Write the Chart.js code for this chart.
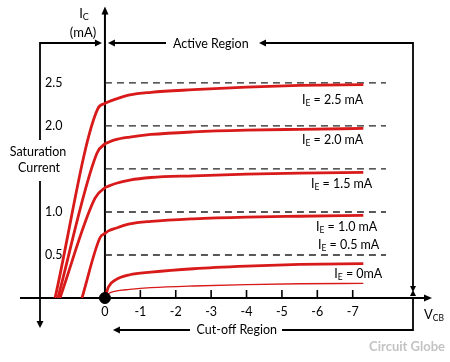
<!DOCTYPE html>
<html>
<head>
<meta charset="utf-8">
<script src="https://cdn.jsdelivr.net/npm/chart.js@4.4.0/dist/chart.umd.min.js"></script>
<style>
  html, body { margin:0; padding:0; background:#fff; }
  canvas { display:block; }
</style>
</head>
<body>
<canvas id="c" width="450" height="362"></canvas>
<script>
// Values: V_CB in volts, I_C in mA
const vcb  = [0, -0.1, -0.3, -0.7, -1.3, -2.5, -4, -5.5, -7.3];
const ieLabels = ["2.5 mA", "2.0 mA", "1.5 mA", "1.0 mA", "0.5 mA", "0mA"];
const ic25 = [2.26, 2.28, 2.31, 2.36, 2.39, 2.42, 2.45, 2.47, 2.48];
const ic20 = [1.79, 1.81, 1.84, 1.87, 1.90, 1.93, 1.95, 1.96, 1.97];
const ic15 = [1.28, 1.30, 1.33, 1.37, 1.40, 1.42, 1.44, 1.45, 1.46];
const ic10 = [0.75, 0.78, 0.81, 0.86, 0.89, 0.92, 0.94, 0.95, 0.96];
const ic05 = [0, 0.13, 0.21, 0.27, 0.30, 0.34, 0.37, 0.39, 0.40];
const ic00 = [0, 0.05, 0.08, 0.10, 0.12, 0.14, 0.155, 0.165, 0.17];
// saturation part of each curve: [foot on the axis, knee] as [vcb, ic]
const sat25 = [[1.41, 0], [0.20, 2.20]];
const sat20 = [[1.33, 0], [0.23, 1.68]];
const sat15 = [[1.27, 0], [0.28, 1.16]];
const sat10 = [[0.65, 0], [0.14, 0.70]];
const levels = [0.5, 1.0, 1.5, 2.0, 2.5];
const levelEnd = -7.94;
const xTicks = [0, -1, -2, -3, -4, -5, -6, -7];
const yTicks = [0.5, 1.0, 2.0, 2.5];
const xRange = [-9.24, 2.40];
const yRange = [0, 3.387];

const RED = "#d81a1a";
const FONT = "Lato";
Chart.defaults.font.family = FONT;

const pts = (sat, ic) => [...sat.map(p => ({x:p[0], y:p[1]})), ...vcb.map((v,i) => ({x:v, y:ic[i]}))];
const curves = [
  {sat:sat25, ic:ic25, w:2.8}, {sat:sat20, ic:ic20, w:2.8}, {sat:sat15, ic:ic15, w:2.8},
  {sat:sat10, ic:ic10, w:2.8}, {sat:[], ic:ic05, w:2.8}, {sat:[], ic:ic00, w:1.4}
];

const datasets = [];
curves.forEach((c, i) => datasets.push({
  label: "IE " + ieLabels[i], data: pts(c.sat, c.ic),
  borderColor: RED, borderWidth: c.w, pointRadius: 0,
  cubicInterpolationMode: "monotone", order: 1
}));
levels.forEach(lv => datasets.push({
  label: "level " + lv, data: [{x:0, y:lv}, {x:levelEnd, y:lv}],
  borderColor: "#222", borderWidth: 1.4, borderDash: [7, 5], pointRadius: 0, order: 3
}));
datasets.push({
  label: "origin", data: [{x:0, y:0}], showLine: false, clip: false,
  pointRadius: 5.5, pointBackgroundColor: "#000", pointBorderColor: "#000", order: 0
});

// drawing helpers
function arrow(ctx, x, y, dir, len=8, half=3.5){
  ctx.beginPath();
  if (dir === "r") { ctx.moveTo(x, y); ctx.lineTo(x-len, y-half); ctx.lineTo(x-len, y+half); }
  if (dir === "l") { ctx.moveTo(x, y); ctx.lineTo(x+len, y-half); ctx.lineTo(x+len, y+half); }
  if (dir === "u") { ctx.moveTo(x, y); ctx.lineTo(x-half, y+len); ctx.lineTo(x+half, y+len); }
  if (dir === "d") { ctx.moveTo(x, y); ctx.lineTo(x-half, y-len); ctx.lineTo(x+half, y-len); }
  ctx.closePath(); ctx.fill();
}
function line(ctx, pts, w=1.8){
  ctx.lineWidth = w; ctx.beginPath();
  ctx.moveTo(pts[0][0], pts[0][1]);
  pts.slice(1).forEach(p => ctx.lineTo(p[0], p[1]));
  ctx.stroke();
}
// parts: [text, size, dy]; draws a run of text with subscripts
function runText(ctx, parts, x, y, align="left"){
  let total = 0;
  const ws = parts.map(p => { ctx.font = p[1] + "px " + FONT; const w = ctx.measureText(p[0]).width; total += w; return w; });
  let cx = align === "right" ? x - total : align === "center" ? x - total/2 : x;
  ctx.textAlign = "left"; ctx.textBaseline = "middle";
  parts.forEach((p, i) => { ctx.font = p[1] + "px " + FONT; ctx.fillText(p[0], cx, y + (p[2]||0)); cx += ws[i]; });
}

const axesPlugin = {
  id: "axes",
  beforeDatasetsDraw(chart){
    const {ctx, chartArea:a, scales:{x, y}} = chart;
    const x0 = x.getPixelForValue(0), y0 = y.getPixelForValue(0);
    ctx.save();
    ctx.strokeStyle = "#000"; ctx.fillStyle = "#000";
    line(ctx, [[a.left, y0], [a.right - 6, y0]], 2);
    arrow(ctx, a.right, y0, "r");
    line(ctx, [[x0, y0], [x0, a.top + 6]], 2);
    arrow(ctx, x0, a.top, "u");
    xTicks.filter(v => v !== 0).forEach(v => {
      const px = x.getPixelForValue(v);
      line(ctx, [[px, y0], [px, y0 - 8]], 1.6);
    });
    ctx.restore();
  },
  afterDraw(chart){
    const {ctx, scales:{x, y}} = chart;
    const x0 = x.getPixelForValue(0);
    ctx.save();
    ctx.strokeStyle = "#000"; ctx.fillStyle = "#000";
    // axis titles
    runText(ctx, [["I", 13], ["C", 9, 3]], 84, 14, "center");
    runText(ctx, [["(mA)", 13]], 83, 33, "center");
    runText(ctx, [["V", 13], ["CB", 8.5, 3]], 424, 315, "left");
    // saturation bracket
    line(ctx, [[40, 140], [40, 43], [x0 - 7, 43]]);
    arrow(ctx, x0 - 3, 43, "r", 7, 3.5);
    line(ctx, [[40, 181], [40, 321]]);
    arrow(ctx, 40, 328, "d", 7, 3.5);
    runText(ctx, [["Saturation", 12.5]], 38, 152, "center");
    runText(ctx, [["Current", 12.5]], 39, 168, "center");
    // active region bracket
    line(ctx, [[x0 + 8, 43], [166, 43]]);
    arrow(ctx, x0 + 3, 43, "l", 7, 3.5);
    runText(ctx, [["Active Region", 12.5]], 173, 44, "left");
    line(ctx, [[265, 43], [413, 43], [413, 286]]);
    arrow(ctx, 259, 43, "l", 7, 3.5);
    arrow(ctx, 413, 292, "d", 6, 3);
    arrow(ctx, 413, 290, "u", 6, 3);
    // cut-off region bracket
    line(ctx, [[413, 297], [413, 330], [282, 330]]);
    runText(ctx, [["Cut-off Region", 12.5]], 277, 330, "right");
    line(ctx, [[190, 330], [x0 + 14, 330]]);
    arrow(ctx, x0 + 8, 330, "l", 7, 3.5);
    // curve labels
    const xe = x.getPixelForValue(-7.3);
    const ref = [2.5, 2.0, 1.5, 1.0, 0.5, 0];
    const off = [[0, 17], [0, 14], [9, 15], [14, 15], [16, -10], [19, -24]];
    ieLabels.forEach((t, i) => {
      runText(ctx, [["I", 12.5], ["E", 8.5, 3], [" = " + t, 12.5]],
        xe + off[i][0], y.getPixelForValue(ref[i]) + off[i][1], "right");
    });
    // watermark
    ctx.fillStyle = "#c3c3c3";
    ctx.font = "bold 13px " + FONT;
    ctx.textAlign = "right"; ctx.textBaseline = "middle";
    ctx.fillText("Circuit Globe", 445, 347);
    ctx.restore();
  }
};

const noPad = s => { s.paddingTop = 0; s.paddingBottom = 0; s.paddingLeft = 0; s.paddingRight = 0; };

new Chart(document.getElementById("c"), {
  type: "line",
  data: { datasets },
  options: {
    responsive: false, animation: false,
    layout: { padding: { left: 20, right: 18, top: 4, bottom: 44 } },
    plugins: { legend: { display: false }, tooltip: { enabled: false } },
    scales: {
      x: {
        type: "linear", reverse: true, min: xRange[0], max: xRange[1],
        grid: { display: false, drawTicks: false }, border: { display: false },
        afterBuildTicks: s => { s.ticks = xTicks.map(v => ({value: v})); },
        afterFit: s => { s.height = 20; noPad(s); },
        ticks: { color: "#000", padding: 6, font: { size: 12.5 }, callback: v => String(v) }
      },
      y: {
        type: "linear", min: yRange[0], max: yRange[1],
        grid: { display: false, drawTicks: false }, border: { display: false },
        afterBuildTicks: s => { s.ticks = yTicks.map(v => ({value: v})); },
        afterFit: s => { s.width = 0; noPad(s); },
        ticks: { color: "#000", mirror: true, padding: 25, font: { size: 12.5 }, callback: v => v.toFixed(1) }
      }
    }
  },
  plugins: [axesPlugin]
});
</script>
</body>
</html>
